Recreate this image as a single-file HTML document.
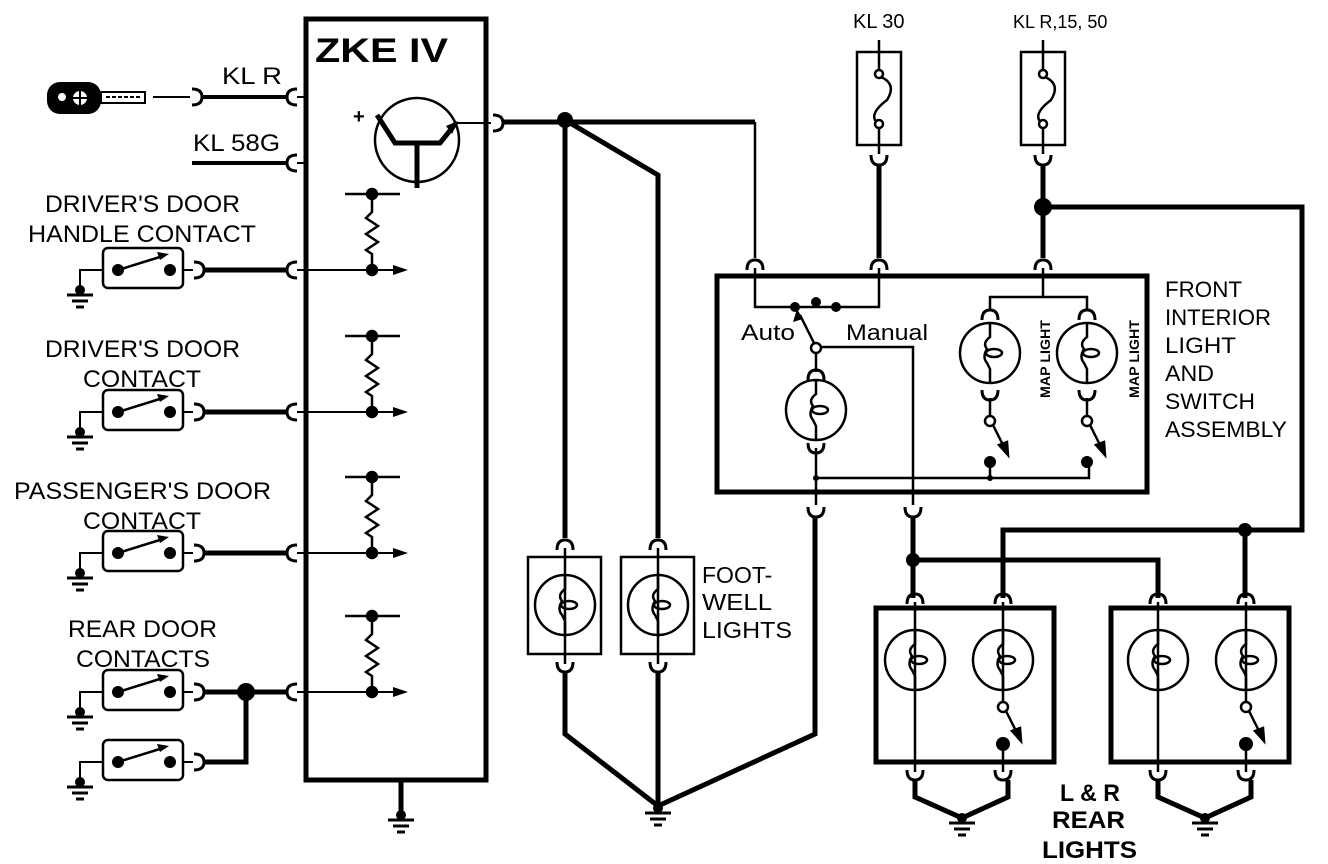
<!DOCTYPE html>
<html><head><meta charset="utf-8"><style>
html,body{margin:0;padding:0;background:#fff}
svg{display:block}
text{font-family:"Liberation Sans",sans-serif;fill:#000}
</style></head><body>
<svg width="1328" height="864" viewBox="0 0 1328 864" xmlns="http://www.w3.org/2000/svg">
<defs>
<path id="cR" d="M-5,-8 Q5,-8 5,0 Q5,8 -5,8" fill="none" stroke="#000" stroke-width="3"/>
<path id="cL" d="M5,-8 Q-5,-8 -5,0 Q-5,8 5,8" fill="none" stroke="#000" stroke-width="3"/>
<path id="cD" d="M-8,-5 Q-8,5 0,5 Q8,5 8,-5" fill="none" stroke="#000" stroke-width="3"/>
<path id="cU" d="M-8,5 Q-8,-5 0,-5 Q8,-5 8,5" fill="none" stroke="#000" stroke-width="3"/>
<g id="bulb" fill="none" stroke="#000" stroke-width="2.5">
<circle r="30"/>
<path d="M0,-30 L0,-16 Q-8,-10 -3,-4 Q-8,4 -3,10 L0,16 L0,30"/>
<ellipse cx="4" cy="0" rx="8" ry="4"/>
</g>
<g id="gnd" stroke="#000" stroke-width="3">
<circle cx="0" cy="0" r="5" fill="#000" stroke="none"/>
<line x1="-13" y1="5" x2="13" y2="5"/>
<line x1="-8" y1="11" x2="8" y2="11"/>
<line x1="-4" y1="17" x2="4" y2="17"/>
</g>
<g id="sw">
<rect x="0" y="-20" width="80" height="40" rx="5" fill="none" stroke="#000" stroke-width="2.5"/>
<circle cx="15" cy="2" r="6" fill="#000"/>
<circle cx="67" cy="2" r="6" fill="#000"/>
<line x1="15" y1="2" x2="60" y2="-12" stroke="#000" stroke-width="2.5"/>
<path d="M66,-14 L54,-16 L57,-8 Z" fill="#000"/>
</g>
<g id="res" stroke="#000" stroke-width="2.5" fill="none">
<line x1="-27" y1="0" x2="28" y2="0"/>
<circle cx="0" cy="0" r="5" fill="#000"/>
<path d="M0,0 L0,18 L-6,24 L6,32 L-6,40 L6,48 L-6,56 L0,60 L0,76"/>
<circle cx="0" cy="76" r="5" fill="#000"/>
</g>
<g id="fuse" fill="none" stroke="#000" stroke-width="2.5">
<rect x="-22" y="0" width="44" height="93"/>
<line x1="0" y1="-12" x2="0" y2="22"/>
<circle cx="0" cy="22" r="4" fill="#fff"/>
<path d="M2,25 Q18,32 8,48 Q-8,60 -4,68 L-1,70"/>
<circle cx="0" cy="72" r="4" fill="#fff"/>
<line x1="0" y1="76" x2="0" y2="102"/>
</g>
<g id="msw" stroke="#000" stroke-width="2.5" fill="none">
<circle cx="0" cy="0" r="5" fill="#fff"/>
<line x1="3" y1="4" x2="14" y2="26"/>
<path d="M18,34 L9,24 L17,21 Z" fill="#000"/>
</g>
</defs>

<rect x="306" y="19" width="180" height="761" fill="none" stroke="#000" stroke-width="5"/>
<text x="315" y="62" font-size="34" font-weight="bold" textLength="133" lengthAdjust="spacingAndGlyphs">ZKE IV</text>

<g>
<rect x="47" y="82" width="54" height="32" rx="13" fill="#000"/>
<circle cx="80" cy="98" r="7" fill="#fff"/>
<path d="M80,91 L80,105 M73,98 L87,98" stroke="#000" stroke-width="2"/>
<circle cx="62" cy="97" r="4" fill="#fff"/>
<rect x="101" y="92" width="44" height="11" fill="#fff" stroke="#000" stroke-width="2"/>
<path d="M106,97 L140,97" stroke="#000" stroke-width="2" stroke-dasharray="4 2"/>
</g>
<line x1="153" y1="97" x2="190" y2="97" stroke="#000" stroke-width="2"/>
<use href="#cR" x="197" y="97"/>
<line x1="202" y1="97" x2="286" y2="97" stroke="#000" stroke-width="4"/>
<use href="#cL" x="292" y="97"/>
<line x1="297" y1="97" x2="306" y2="97" stroke="#000" stroke-width="2"/>
<text x="222" y="84" font-size="24" textLength="60" lengthAdjust="spacingAndGlyphs">KL R</text>

<text x="193" y="151" font-size="24" textLength="87" lengthAdjust="spacingAndGlyphs">KL 58G</text>
<line x1="192" y1="163" x2="286" y2="163" stroke="#000" stroke-width="4"/>
<use href="#cL" x="292" y="163"/>
<line x1="297" y1="163" x2="306" y2="163" stroke="#000" stroke-width="2"/>

<circle cx="417" cy="140" r="42" fill="none" stroke="#000" stroke-width="2.5"/>
<text x="353" y="123" font-size="20" font-weight="bold">+</text>
<path d="M377,115 L395,143 L440,143 L456,123" fill="none" stroke="#000" stroke-width="5"/>
<line x1="417" y1="143" x2="417" y2="188" stroke="#000" stroke-width="5"/>
<path d="M458,121 L446,126 L452,134 Z" fill="#000"/>
<line x1="456" y1="123" x2="491" y2="123" stroke="#000" stroke-width="2"/>
<use href="#cR" x="498" y="123"/>

<g stroke="#000" stroke-width="5" fill="none">
<line x1="503" y1="122" x2="755" y2="122"/>
<line x1="565" y1="120" x2="565" y2="538"/>
<path d="M565,120 L658,175 L658,538"/>
</g>
<circle cx="565" cy="120" r="8" fill="#000"/>
<line x1="755" y1="122" x2="755" y2="258" stroke="#000" stroke-width="2.5"/>

<g font-size="24">
<text x="45" y="212" textLength="195" lengthAdjust="spacingAndGlyphs">DRIVER'S DOOR</text>
<text x="28" y="242" textLength="228" lengthAdjust="spacingAndGlyphs">HANDLE CONTACT</text>
<text x="45" y="357" textLength="195" lengthAdjust="spacingAndGlyphs">DRIVER'S DOOR</text>
<text x="83" y="387" textLength="118" lengthAdjust="spacingAndGlyphs">CONTACT</text>
<text x="14" y="499" textLength="257" lengthAdjust="spacingAndGlyphs">PASSENGER'S DOOR</text>
<text x="83" y="529" textLength="118" lengthAdjust="spacingAndGlyphs">CONTACT</text>
<text x="68" y="637" textLength="149" lengthAdjust="spacingAndGlyphs">REAR DOOR</text>
<text x="76" y="667" textLength="134" lengthAdjust="spacingAndGlyphs">CONTACTS</text>
</g>

<g id="row1">
<use href="#sw" x="103" y="268"/>
<path d="M103,270 L80,270 L80,290" fill="none" stroke="#000" stroke-width="2"/>
<use href="#gnd" x="80" y="290"/>
<line x1="183" y1="270" x2="193" y2="270" stroke="#000" stroke-width="2"/>
<use href="#cR" x="199" y="270"/>
<line x1="204" y1="270" x2="286" y2="270" stroke="#000" stroke-width="5"/>
<use href="#cL" x="292" y="270"/>
<line x1="297" y1="270" x2="395" y2="270" stroke="#000" stroke-width="2"/>
<path d="M408,270 L393,265 L393,275 Z" fill="#000"/>
<use href="#res" x="372" y="194"/>
</g>
<use href="#row1" y="142"/>
<use href="#row1" y="283"/>
<use href="#sw" x="103" y="690"/>
<path d="M103,692 L80,692 L80,712" fill="none" stroke="#000" stroke-width="2"/>
<use href="#gnd" x="80" y="712"/>
<line x1="183" y1="692" x2="193" y2="692" stroke="#000" stroke-width="2"/>
<use href="#cR" x="199" y="692"/>
<line x1="204" y1="692" x2="286" y2="692" stroke="#000" stroke-width="5"/>
<use href="#cL" x="292" y="692"/>
<line x1="297" y1="692" x2="395" y2="692" stroke="#000" stroke-width="2"/>
<path d="M408,692 L393,687 L393,697 Z" fill="#000"/>
<use href="#res" x="372" y="616"/>
<circle cx="246" cy="692" r="9" fill="#000"/>
<use href="#sw" x="103" y="760"/>
<path d="M103,762 L80,762 L80,782" fill="none" stroke="#000" stroke-width="2"/>
<use href="#gnd" x="80" y="782"/>
<line x1="183" y1="762" x2="193" y2="762" stroke="#000" stroke-width="2"/>
<use href="#cR" x="199" y="762"/>
<path d="M204,762 L246,762 L246,692" fill="none" stroke="#000" stroke-width="5"/>

<line x1="401" y1="780" x2="401" y2="812" stroke="#000" stroke-width="5"/>
<use href="#gnd" x="401" y="815"/>

<text x="853" y="28" font-size="20">KL 30</text>
<text x="1013" y="28" font-size="18">KL R,15, 50</text>
<use href="#fuse" x="879" y="52"/>
<use href="#fuse" x="1043" y="52"/>
<use href="#cD" x="879" y="160"/>
<use href="#cD" x="1043" y="160"/>
<g stroke="#000" stroke-width="5" fill="none">
<line x1="879" y1="165" x2="879" y2="258"/>
<line x1="1043" y1="165" x2="1043" y2="258"/>
<path d="M1043,207 L1302,207 L1302,530 L1003,530 L1003,598"/>
<line x1="1245" y1="530" x2="1245" y2="598"/>
</g>
<circle cx="1043" cy="207" r="9" fill="#000"/>
<circle cx="1245" cy="530" r="7" fill="#000"/>
<use href="#cU" x="755" y="265"/>
<use href="#cU" x="879" y="265"/>
<use href="#cU" x="1043" y="265"/>

<rect x="717" y="276" width="430" height="216" fill="none" stroke="#000" stroke-width="5"/>
<g font-size="22">
<text x="1165" y="297" textLength="77" lengthAdjust="spacingAndGlyphs">FRONT</text>
<text x="1165" y="325" textLength="106" lengthAdjust="spacingAndGlyphs">INTERIOR</text>
<text x="1165" y="353" textLength="71" lengthAdjust="spacingAndGlyphs">LIGHT</text>
<text x="1165" y="381" textLength="49" lengthAdjust="spacingAndGlyphs">AND</text>
<text x="1165" y="409" textLength="90" lengthAdjust="spacingAndGlyphs">SWITCH</text>
<text x="1165" y="437" textLength="122" lengthAdjust="spacingAndGlyphs">ASSEMBLY</text>
</g>
<g stroke="#000" stroke-width="2.5" fill="none">
<path d="M755,268 L755,307 L795,307"/>
<path d="M879,268 L879,307 L836,307"/>
<line x1="795" y1="307" x2="836" y2="307"/>
<line x1="816" y1="347" x2="800" y2="315"/>
<path d="M816,347 L913,347 L913,505"/>
<line x1="816" y1="353" x2="816" y2="372"/>
<line x1="816" y1="448" x2="816" y2="505"/>
<path d="M816,478 L1089,478 L1089,463"/>
<line x1="990" y1="478" x2="990" y2="463"/>
<path d="M990,310 L990,297 L1087,297 L1087,310"/>
<line x1="1043" y1="268" x2="1043" y2="297"/>
<line x1="990" y1="398" x2="990" y2="416"/>
<line x1="1087" y1="398" x2="1087" y2="416"/>
</g>
<circle cx="795" cy="307" r="5" fill="#000"/>
<circle cx="816" cy="302" r="5" fill="#000"/>
<circle cx="836" cy="307" r="5" fill="#000"/>
<path d="M797,309 L793,322 L803,319 Z" fill="#000"/>
<circle cx="816" cy="348" r="5" fill="#fff" stroke="#000" stroke-width="2.5"/>
<text x="741" y="340" font-size="22" textLength="54" lengthAdjust="spacingAndGlyphs">Auto</text>
<text x="846" y="340" font-size="22" textLength="82" lengthAdjust="spacingAndGlyphs">Manual</text>
<use href="#cU" x="816" y="375"/>
<use href="#bulb" x="816" y="410"/>
<use href="#cD" x="816" y="448"/>
<use href="#cU" x="990" y="315"/>
<use href="#bulb" x="990" y="353"/>
<use href="#cD" x="990" y="395"/>
<use href="#msw" x="990" y="421"/>
<circle cx="990" cy="462" r="6" fill="#000"/>
<use href="#cU" x="1087" y="315"/>
<use href="#bulb" x="1087" y="353"/>
<use href="#cD" x="1087" y="395"/>
<use href="#msw" x="1087" y="421"/>
<circle cx="1087" cy="462" r="6" fill="#000"/>
<circle cx="990" cy="478" r="3" fill="#000"/>
<circle cx="816" cy="478" r="3" fill="#000"/>
<text transform="translate(1050,398) rotate(-90)" font-size="14" font-weight="bold" textLength="78" lengthAdjust="spacingAndGlyphs">MAP LIGHT</text>
<text transform="translate(1139,398) rotate(-90)" font-size="14" font-weight="bold" textLength="78" lengthAdjust="spacingAndGlyphs">MAP LIGHT</text>
<use href="#cD" x="816" y="512"/>
<use href="#cD" x="913" y="512"/>

<use href="#cU" x="565" y="545"/>
<use href="#cU" x="658" y="545"/>
<rect x="528" y="557" width="73" height="97" fill="none" stroke="#000" stroke-width="2.5"/>
<rect x="621" y="557" width="73" height="97" fill="none" stroke="#000" stroke-width="2.5"/>
<line x1="565" y1="548" x2="565" y2="664" stroke="#000" stroke-width="2.5"/>
<line x1="658" y1="548" x2="658" y2="664" stroke="#000" stroke-width="2.5"/>
<use href="#bulb" x="565" y="605"/>
<use href="#bulb" x="658" y="605"/>
<use href="#cD" x="565" y="667"/>
<use href="#cD" x="658" y="667"/>
<text x="702" y="583" font-size="23">FOOT-</text>
<text x="702" y="610" font-size="23" textLength="70" lengthAdjust="spacingAndGlyphs">WELL</text>
<text x="702" y="638" font-size="23" textLength="90" lengthAdjust="spacingAndGlyphs">LIGHTS</text>
<g stroke="#000" stroke-width="5" fill="none">
<path d="M565,672 L565,734 L658,806"/>
<line x1="658" y1="672" x2="658" y2="806"/>
<path d="M815,517 L815,734 L658,806"/>
</g>
<use href="#gnd" x="658" y="808"/>

<g stroke="#000" stroke-width="5" fill="none">
<path d="M913,517 L913,598"/>
<path d="M913,560 L1158,560 L1158,598"/>
</g>
<circle cx="913" cy="560" r="7" fill="#000"/>
<rect x="876" y="608" width="178" height="154" fill="none" stroke="#000" stroke-width="5"/>
<rect x="1111" y="608" width="178" height="154" fill="none" stroke="#000" stroke-width="5"/>
<g id="rl">
<use href="#cU" x="915" y="599"/>
<use href="#cU" x="1003" y="599"/>
<line x1="915" y1="602" x2="915" y2="772" stroke="#000" stroke-width="2.5"/>
<line x1="1003" y1="602" x2="1003" y2="702" stroke="#000" stroke-width="2.5"/>
<line x1="1003" y1="745" x2="1003" y2="772" stroke="#000" stroke-width="2.5"/>
<use href="#bulb" x="915" y="660"/>
<use href="#bulb" x="1003" y="660"/>
<use href="#msw" x="1003" y="707"/>
<circle cx="1003" cy="744" r="7" fill="#000"/>
<use href="#cD" x="915" y="775"/>
<use href="#cD" x="1003" y="775"/>
<path d="M915,780 L915,797 L962,818 L1008,797 L1008,780" fill="none" stroke="#000" stroke-width="5"/>
<use href="#gnd" x="962" y="818"/>
</g>
<use href="#rl" x="243"/>
<g font-size="24" font-weight="bold">
<text x="1060" y="801" textLength="60" lengthAdjust="spacingAndGlyphs">L &amp; R</text>
<text x="1052" y="828" textLength="73" lengthAdjust="spacingAndGlyphs">REAR</text>
<text x="1042" y="858" textLength="95" lengthAdjust="spacingAndGlyphs">LIGHTS</text>
</g>
</svg>
</body></html>
